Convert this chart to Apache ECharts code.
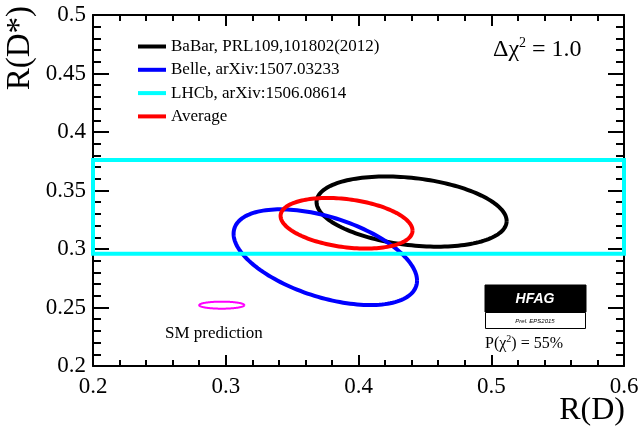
<!DOCTYPE html>
<html>
<head>
<meta charset="utf-8">
<script src="https://cdn.jsdelivr.net/npm/echarts@6/dist/echarts.min.js"></script>
<style>
html,body{margin:0;padding:0;background:#fff;}
#chart{width:641px;height:428px;}
</style>
</head>
<body>
<div id="chart"></div>
<script>
// ---- data ----
const ellipseNames = ['BaBar, PRL109,101802(2012)', 'Belle, arXiv:1507.03233', 'Average', 'SM prediction'];
const ellipseColors = ['#000000', '#0000ff', '#ff0000', '#ff00ff'];
const rD        = [0.440, 0.375, 0.391, 0.297];
const rDstar    = [0.332, 0.293, 0.322, 0.252];
const errRD     = [0.0716, 0.0691, 0.0497, 0.017];
const errRDstar = [0.0300, 0.0409, 0.0216, 0.003];
const corr      = [-0.27, -0.49, -0.29, 0.0];

const lhcbName = 'LHCb, arXiv:1506.08614';
const lhcbRD = [0.2, 0.6];          // band spans full R(D) range
const lhcbRDstar = [0.296, 0.376];  // 0.336 +- 0.040

const xTicks = [0.2, 0.3, 0.4, 0.5, 0.6];
const yTicks = [0.2, 0.25, 0.3, 0.35, 0.4, 0.45, 0.5];
const legendOrder = ['BaBar, PRL109,101802(2012)', 'Belle, arXiv:1507.03233', 'LHCb, arXiv:1506.08614', 'Average'];

const SERIF = 'Liberation Serif';

function ellipseRenderer(lineWidth) {
  return function (params, api) {
    const cx = api.value(0), cy = api.value(1), sx = api.value(2), sy = api.value(3), rho = api.value(4);
    const pts = [];
    const N = 160;
    const s = Math.sqrt(1 - rho * rho);
    for (let i = 0; i <= N; i++) {
      const t = 2 * Math.PI * i / N;
      pts.push(api.coord([cx + sx * Math.cos(t), cy + sy * (rho * Math.cos(t) + s * Math.sin(t))]));
    }
    return {
      type: 'polyline',
      shape: { points: pts },
      style: { fill: null, stroke: api.visual('color'), lineWidth: lineWidth }
    };
  };
}

function bandRenderer(params, api) {
  const p1 = api.coord([api.value(0), api.value(2)]);
  const p2 = api.coord([api.value(1), api.value(3)]);
  return {
    type: 'rect',
    shape: { x: p1[0], y: p2[1], width: p2[0] - p1[0], height: p1[1] - p2[1] },
    style: { fill: null, stroke: api.visual('color'), lineWidth: 4 }
  };
}

function ellipseSeries(i, lw, z) {
  return {
    name: ellipseNames[i],
    type: 'custom',
    xAxisIndex: 0, yAxisIndex: 0,
    clip: false,
    z: z,
    itemStyle: { color: ellipseColors[i] },
    renderItem: ellipseRenderer(lw),
    encode: { x: 0, y: 1 },
    data: [[rD[i], rDstar[i], errRD[i], errRDstar[i], corr[i]]],
    silent: true
  };
}

const axisCommon = {
  type: 'value',
  axisLine: { show: true, onZero: false, lineStyle: { color: '#000', width: 2 } },
  splitLine: { show: false },
  minorSplitLine: { show: false }
};

const chart = echarts.init(document.getElementById('chart'), null, { renderer: 'canvas' });
chart.setOption({
  animation: false,
  backgroundColor: '#ffffff',
  textStyle: { fontFamily: SERIF, color: '#000' },
  grid: { left: 93, right: 17, top: 15, bottom: 62, containLabel: false, outerBoundsMode: 'none' },
  xAxis: [
    Object.assign({}, axisCommon, {
      position: 'bottom', min: xTicks[0], max: xTicks[xTicks.length - 1], interval: 0.1,
      axisTick: { show: true, inside: true, length: 11, lineStyle: { color: '#000', width: 2 } },
      minorTick: { show: true, splitNumber: 5, length: 6, lineStyle: { color: '#000', width: 2 } },
      axisLabel: { show: true, color: '#000', fontFamily: SERIF, fontSize: 23, margin: 9,
                   formatter: v => String(+v.toFixed(2)) }
    }),
    Object.assign({}, axisCommon, {
      position: 'top', min: xTicks[0], max: xTicks[xTicks.length - 1], interval: 0.1,
      axisTick: { show: true, inside: true, length: 11, lineStyle: { color: '#000', width: 2 } },
      minorTick: { show: true, splitNumber: 5, length: 6, lineStyle: { color: '#000', width: 2 } },
      axisLabel: { show: false }
    })
  ],
  yAxis: [
    Object.assign({}, axisCommon, {
      position: 'left', min: yTicks[0], max: yTicks[yTicks.length - 1], interval: 0.05,
      axisTick: { show: true, inside: true, length: 16, lineStyle: { color: '#000', width: 2 } },
      minorTick: { show: true, splitNumber: 5, length: 8, lineStyle: { color: '#000', width: 2 } },
      axisLabel: { show: true, color: '#000', fontFamily: SERIF, fontSize: 23, margin: 7,
                   formatter: v => String(+v.toFixed(2)) },
      name: 'R(D*)', nameLocation: 'end', nameGap: 9, nameRotate: 90,
      nameTextStyle: { color: '#000', fontFamily: SERIF, fontSize: 33, align: 'right', verticalAlign: 'bottom', padding: [0, 0, 56, 0] }
    }),
    Object.assign({}, axisCommon, {
      position: 'right', min: yTicks[0], max: yTicks[yTicks.length - 1], interval: 0.05,
      axisTick: { show: true, inside: true, length: 16, lineStyle: { color: '#000', width: 2 } },
      minorTick: { show: true, splitNumber: 5, length: 8, lineStyle: { color: '#000', width: 2 } },
      axisLabel: { show: false }
    })
  ],
  legend: {
    data: legendOrder,
    orient: 'vertical',
    left: 138, top: 38, padding: 0,
    icon: 'rect', itemWidth: 28, itemHeight: 4, itemGap: 6.3,
    textStyle: { color: '#000', fontFamily: SERIF, fontSize: 17 },
    selectedMode: false
  },
  series: [
    ellipseSeries(0, 4, 2),
    ellipseSeries(1, 4, 3),
    {
      name: lhcbName,
      type: 'custom', xAxisIndex: 0, yAxisIndex: 0, clip: false, z: 4,
      itemStyle: { color: '#00ffff' },
      renderItem: bandRenderer,
      encode: { x: [0, 1], y: [2, 3] },
      data: [[lhcbRD[0], lhcbRD[1], lhcbRDstar[0], lhcbRDstar[1]]],
      silent: true
    },
    ellipseSeries(2, 4, 5),
    ellipseSeries(3, 2, 5)
  ],
  graphic: [
    { type: 'text', x: 625, y: 395,
      style: { text: 'R(D)', fontFamily: SERIF, fontSize: 32, fill: '#000', align: 'right', verticalAlign: 'top' } },
    { type: 'text', left: 493, top: 36,
      style: { text: '{a|Δχ}{s|2}{a| = 1.0}', rich: {
        a: { fontFamily: SERIF, fontSize: 24, fill: '#000', lineHeight: 28 },
        s: { fontFamily: SERIF, fontSize: 14, fill: '#000', verticalAlign: 'top', lineHeight: 28 }
      } } },
    { type: 'text', left: 165, top: 325,
      style: { text: 'SM prediction', fontFamily: SERIF, fontSize: 17, fill: '#000' } },
    { type: 'rect', shape: { x: 485, y: 285, width: 101, height: 27 }, style: { fill: '#000', stroke: '#000', lineWidth: 1 } },
    { type: 'rect', shape: { x: 485.5, y: 312.5, width: 100, height: 16 }, style: { fill: '#fff', stroke: '#000', lineWidth: 1 } },
    { type: 'text', x: 535, y: 299,
      style: { text: 'HFAG', fontFamily: 'Liberation Sans', fontStyle: 'italic', fontWeight: 'bold', fontSize: 14, fill: '#fff', align: 'center', verticalAlign: 'middle' } },
    { type: 'text', x: 535, y: 321,
      style: { text: 'Prel. EPS2015', fontFamily: 'Liberation Sans', fontStyle: 'italic', fontSize: 6, fill: '#000', align: 'center', verticalAlign: 'middle' } },
    { type: 'text', left: 485, top: 334,
      style: { text: '{a|P(χ}{s|2}{a|) = 55%}', rich: {
        a: { fontFamily: SERIF, fontSize: 16, fill: '#000', lineHeight: 20 },
        s: { fontFamily: SERIF, fontSize: 10, fill: '#000', verticalAlign: 'top', lineHeight: 20 }
      } } }
  ]
});
</script>
</body>
</html>
